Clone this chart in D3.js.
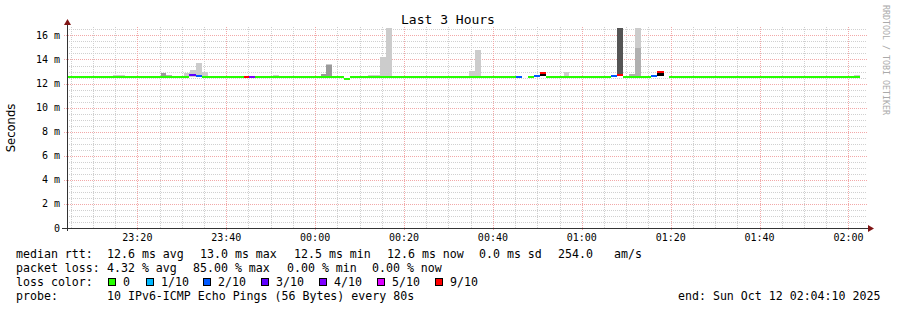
<!DOCTYPE html>
<html>
<head>
<meta charset="utf-8">
<script src="https://cdn.jsdelivr.net/npm/d3@7"></script>
<style>
  body { margin: 0; background: #fff; }
  text { font-family: "DejaVu Sans Mono", monospace; fill: #000; }
</style>
</head>
<body>
<svg id="drawing_region"></svg>
<script>
// median rtt segments: start, end, median (ms), lost pings out of 10
const lineFrom = ["23:04:10","23:31:37","23:33:12","23:34:32","23:44:00","23:45:07","23:46:28","00:06:30","00:07:50","00:45:12",
                  "00:47:54","00:49:14","00:50:36","00:51:57","01:06:34","01:07:55","01:09:16","01:15:34","01:16:55","01:19:37"];
const lineTo   = ["23:31:37","23:33:12","23:34:32","23:44:00","23:45:07","23:46:28","00:06:30","00:07:50","00:45:12","00:46:32",
                  "00:49:14","00:50:36","00:51:57","01:06:34","01:07:55","01:09:16","01:15:34","01:16:55","01:18:30","02:02:36"];
const lineMs   = [12.55, 12.7, 12.62, 12.55, 12.55, 12.55, 12.55, 12.42, 12.55, 12.55,
                  12.55, 12.65, 12.9, 12.55, 12.62, 12.75, 12.55, 12.62, 12.95, 12.55];
const lineLoss = [0, 3, 2, 0, 9, 4, 0, 0, 0, 2,
                  0, 2, 9, 0, 2, 9, 0, 2, 9, 0];

// smoke bands: start, end, low (ms), high (ms), density level
const smokeFrom  = ["23:14:31","23:25:19","23:26:27","23:30:30","23:31:51","23:33:12","23:34:32","23:50:31","00:01:19","00:02:27",
                    "00:02:27","00:11:54","00:14:36","00:15:57","00:34:37","00:35:58","00:50:36","00:56:00","01:07:55","01:10:37",
                    "01:11:58","01:11:58","01:16:55","02:01:14"];
const smokeTo    = ["23:17:13","23:26:27","23:27:48","23:31:51","23:33:12","23:34:32","23:35:54","23:51:52","00:02:27","00:03:48",
                    "00:03:48","00:14:36","00:15:57","00:17:18","00:35:58","00:37:19","00:51:57","00:57:07","01:09:16","01:11:58",
                    "01:13:19","01:13:19","01:18:30","02:02:36"];
const smokeLow   = [12.55, 12.55, 12.55, 12.55, 12.55, 12.55, 12.55, 12.55, 12.55, 12.55,
                    13.55, 12.55, 12.55, 12.55, 12.55, 12.55, 12.6, 12.55, 12.75, 12.55,
                    12.55, 14.96, 12.6, 12.55];
const smokeHigh  = [12.72, 12.88, 12.72, 12.88, 13.13, 13.7, 12.97, 12.72, 12.8, 13.55,
                    13.63, 12.72, 14.2, 16.6, 13.05, 14.8, 12.8, 12.97, 16.6, 12.8,
                    14.96, 16.6, 12.85, 12.72];
const smokeLevel = [0, 2, 1, 0, 0, 0, 0, 0, 2, 2,
                    0, 0, 0, 0, 0, 0, 4, 0, 3, 1,
                    1, 0, 4, 0];

const yTicks = [0, 2, 4, 6, 8, 10, 12, 14, 16];
const lossSteps  = [0, 1, 2, 3, 4, 5, 9];
const lossLabels = ["0", "1/10", "2/10", "3/10", "4/10", "5/10", "9/10"];
const lossColors = ["#26ff00", "#00b8ff", "#0059ff", "#5e00ff", "#7e00ff", "#dd00ff", "#ff0000"];

const rttStats  = ["12.6 ms avg", "13.0 ms max", "12.5 ms min", "12.6 ms now", "0.0 ms sd", "254.0", "am/s"];
const lossStats = ["4.32 % avg", "85.00 % max", "0.00 % min", "0.00 % now"];
const probeText = "10 IPv6-ICMP Echo Pings (56 Bytes) every 80s";
const endText   = "end: Sun Oct 12 02:04:10 2025";

const startTime = new Date(2025, 9, 11, 23, 4, 10);
const endTime   = new Date(2025, 9, 12, 2, 4, 10);

// late-evening times belong to Oct 11, the rest to Oct 12
function toDate(s) {
    const [h, m, sec] = s.split(':').map(Number);
    return new Date(2025, 9, h >= 12 ? 11 : 12, h, m, sec);
}

const svg = d3.select('#drawing_region')
    .attr('width', 897)
    .attr('height', 310);

const x = d3.scaleTime().domain([startTime, endTime]).range([67, 867]);
const y = d3.scaleLinear().domain([0, 16.7]).range([228, 27]);
const lossColor = d3.scaleOrdinal().domain(lossSteps).range(lossColors);
const smokeColor = d3.scaleOrdinal().domain([0, 1, 2, 3, 4])
    .range(["#cccccc", "#b0b0b0", "#9a9a9a", "#555555", "#000000"]);

// grid
const grid = svg.append('g');
grid.selectAll('.hminor')
    .data(d3.range(0, 16.6, 0.5).filter(v => v % 2 !== 0))
    .enter().append('line')
    .attr('x1', 67).attr('x2', 867)
    .attr('y1', d => Math.round(y(d)) + 0.5).attr('y2', d => Math.round(y(d)) + 0.5)
    .attr('stroke', '#d0d0d0').attr('stroke-dasharray', '1,1');
grid.selectAll('.vminor')
    .data(x.ticks(d3.timeMinute.every(5)).filter(d => d.getMinutes() % 20 !== 0))
    .enter().append('line')
    .attr('x1', d => Math.round(x(d)) + 0.5).attr('x2', d => Math.round(x(d)) + 0.5)
    .attr('y1', 27).attr('y2', 228)
    .attr('stroke', '#d0d0d0').attr('stroke-dasharray', '1,1');
grid.selectAll('.hmajor')
    .data(yTicks.slice(1))
    .enter().append('line')
    .attr('x1', 64).attr('x2', 867)
    .attr('y1', d => Math.round(y(d)) + 0.5).attr('y2', d => Math.round(y(d)) + 0.5)
    .attr('stroke', '#f2a8a8').attr('stroke-dasharray', '1,1');
grid.selectAll('.vmajor')
    .data(x.ticks(d3.timeMinute.every(20)))
    .enter().append('line')
    .attr('x1', d => Math.round(x(d)) + 0.5).attr('x2', d => Math.round(x(d)) + 0.5)
    .attr('y1', 27).attr('y2', 231)
    .attr('stroke', '#f2a8a8').attr('stroke-dasharray', '1,1');

// smoke
svg.append('g').selectAll('rect')
    .data(smokeFrom.map((f, i) => ({from: toDate(f), to: toDate(smokeTo[i]), lo: smokeLow[i], hi: smokeHigh[i], level: smokeLevel[i]})))
    .enter().append('rect')
    .attr('x', d => x(d.from))
    .attr('width', d => x(d.to) - x(d.from))
    .attr('y', d => y(d.hi))
    .attr('height', d => y(d.lo) - y(d.hi))
    .attr('fill', d => smokeColor(d.level))
    .attr('shape-rendering', 'crispEdges');

// median line coloured by loss
svg.append('g').selectAll('rect')
    .data(lineFrom.map((f, i) => ({from: toDate(f), to: toDate(lineTo[i]), ms: lineMs[i], loss: lineLoss[i]})))
    .enter().append('rect')
    .attr('x', d => x(d.from))
    .attr('width', d => x(d.to) - x(d.from))
    .attr('y', d => y(d.ms) - 1)
    .attr('height', 2)
    .attr('fill', d => lossColor(d.loss))
    .attr('shape-rendering', 'crispEdges');

// axes
svg.append('line').attr('x1', 67.5).attr('x2', 67.5).attr('y1', 25).attr('y2', 231)
    .attr('stroke', '#333');
svg.append('line').attr('x1', 62).attr('x2', 869).attr('y1', 228.5).attr('y2', 228.5)
    .attr('stroke', '#333');
svg.append('path').attr('d', 'M67.5,19 L64,25 L71,25 Z').attr('fill', '#801515');
svg.append('path').attr('d', 'M874,228.5 L868,225 L868,232 Z').attr('fill', '#801515');

svg.append('g').selectAll('text')
    .data(yTicks)
    .enter().append('text')
    .attr('x', 60)
    .attr('y', d => y(d))
    .attr('dy', '0.35em')
    .attr('text-anchor', 'end')
    .style('font-size', '10px')
    .text(d => d === 0 ? '0' : `${d} m`);

svg.append('g').selectAll('text')
    .data(x.ticks(d3.timeMinute.every(20)))
    .enter().append('text')
    .attr('x', d => x(d))
    .attr('y', 241)
    .attr('text-anchor', 'middle')
    .style('font-size', '10px')
    .text(d3.timeFormat('%H:%M'));

svg.append('text')
    .attr('transform', 'translate(15,128) rotate(-90)')
    .attr('text-anchor', 'middle')
    .style('font-family', '"DejaVu Sans", sans-serif')
    .style('font-size', '11.6px')
    .text('Seconds');

svg.append('text')
    .attr('x', 448).attr('y', 24)
    .attr('text-anchor', 'middle')
    .style('font-size', '13px')
    .text('Last 3 Hours');

svg.append('text')
    .attr('transform', 'translate(883,5) rotate(90)')
    .style('font-size', '8.3px')
    .style('fill', '#aaa')
    .text('RRDTOOL / TOBI OETIKER');

// legend
const legend = svg.append('g').style('font-size', '11.6px');
legend.append('text').attr('x', 16).attr('y', 258).text('median rtt:');
legend.selectAll('.rtt')
    .data(rttStats).enter().append('text')
    .attr('x', (d, i) => [107, 200, 294, 387, 479, 558, 614][i])
    .attr('y', 258).text(d => d);
legend.append('text').attr('x', 16).attr('y', 272).text('packet loss:');
legend.selectAll('.loss')
    .data(lossStats).enter().append('text')
    .attr('x', (d, i) => [107, 193, 287, 372][i])
    .attr('y', 272).text(d => d);
legend.append('text').attr('x', 16).attr('y', 286).text('loss color:');
const keys = legend.selectAll('.key')
    .data(lossSteps).enter().append('g')
    .attr('transform', (d, i) => `translate(${[108, 146, 203, 261, 319, 377, 435][i]},0)`);
keys.append('rect')
    .attr('x', 0.5).attr('y', 278.5).attr('width', 7).attr('height', 7)
    .attr('fill', d => lossColor(d)).attr('stroke', '#000');
keys.append('text').attr('x', 15).attr('y', 286).text((d, i) => lossLabels[i]);
legend.append('text').attr('x', 16).attr('y', 300).text('probe:');
legend.append('text').attr('x', 107).attr('y', 300).text(probeText);
legend.append('text').attr('x', 678).attr('y', 300).text(endText);
</script>
</body>
</html>
